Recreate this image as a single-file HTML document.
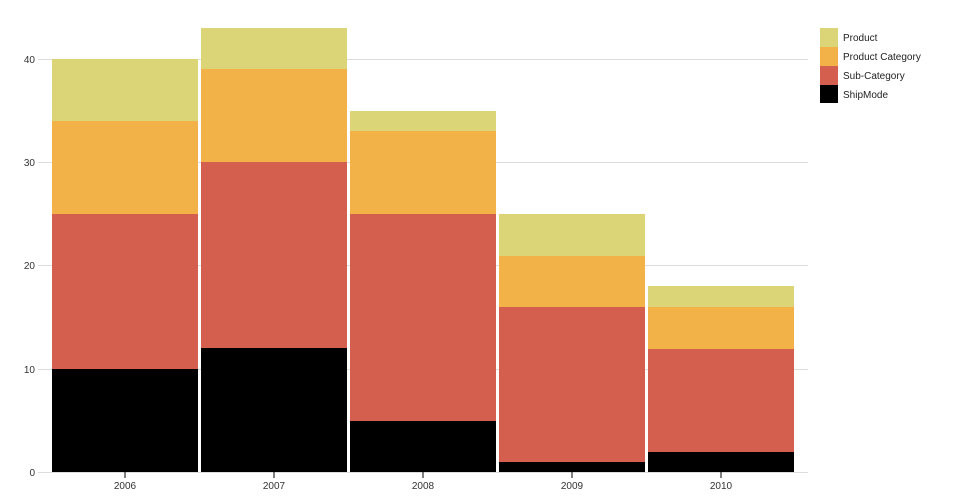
<!DOCTYPE html>
<html><head><style>body{margin:0;background:#fff}svg{display:block;font-family:"Liberation Sans",sans-serif}</style></head><body>
<svg width="960" height="500" xmlns="http://www.w3.org/2000/svg">
<g stroke="#ddd" stroke-width="1">
<line x1="38" x2="808" y1="59.5" y2="59.5"/>
<line x1="38" x2="808" y1="162.5" y2="162.5"/>
<line x1="38" x2="808" y1="265.5" y2="265.5"/>
<line x1="38" x2="808" y1="369.5" y2="369.5"/>
<line x1="38" x2="808" y1="472.5" y2="472.5"/>
</g>
<g font-size="10" fill="#333" text-anchor="end">
<text x="35" y="63">40</text><text x="35" y="166">30</text><text x="35" y="269">20</text><text x="35" y="373">10</text><text x="35" y="476">0</text>
</g>
<g id="bars"></g>
<!-- bars: y(v)=472-v*10.325 -->
<g>
<rect x="52" y="59" width="146" height="62" fill="#dbd577"/>
<rect x="52" y="121" width="146" height="93" fill="#f2b247"/>
<rect x="52" y="214" width="146" height="155" fill="#d45f4e"/>
<rect x="52" y="369" width="146" height="103" fill="#000"/>

<rect x="201" y="28" width="146" height="41" fill="#dbd577"/>
<rect x="201" y="69" width="146" height="93" fill="#f2b247"/>
<rect x="201" y="162" width="146" height="186" fill="#d45f4e"/>
<rect x="201" y="348" width="146" height="124" fill="#000"/>

<rect x="350" y="111" width="146" height="20" fill="#dbd577"/>
<rect x="350" y="131" width="146" height="83" fill="#f2b247"/>
<rect x="350" y="214" width="146" height="207" fill="#d45f4e"/>
<rect x="350" y="421" width="146" height="51" fill="#000"/>

<rect x="499" y="214" width="146" height="42" fill="#dbd577"/>
<rect x="499" y="256" width="146" height="51" fill="#f2b247"/>
<rect x="499" y="307" width="146" height="155" fill="#d45f4e"/>
<rect x="499" y="462" width="146" height="10" fill="#000"/>

<rect x="648" y="286" width="146" height="21" fill="#dbd577"/>
<rect x="648" y="307" width="146" height="42" fill="#f2b247"/>
<rect x="648" y="349" width="146" height="103" fill="#d45f4e"/>
<rect x="648" y="452" width="146" height="20" fill="#000"/>
</g>
<g stroke="#000" stroke-width="1">
<line x1="125" x2="125" y1="472" y2="478"/><line x1="274" x2="274" y1="472" y2="478"/><line x1="423" x2="423" y1="472" y2="478"/><line x1="572" x2="572" y1="472" y2="478"/><line x1="721" x2="721" y1="472" y2="478"/>
</g>
<g font-size="10" fill="#333" text-anchor="middle">
<text x="125" y="489">2006</text><text x="274" y="489">2007</text><text x="423" y="489">2008</text><text x="572" y="489">2009</text><text x="721" y="489">2010</text>
</g>
<rect x="820" y="28" width="18" height="19" fill="#dbd577"/>
<rect x="820" y="47" width="18" height="19" fill="#f2b247"/>
<rect x="820" y="66" width="18" height="19" fill="#d45f4e"/>
<rect x="820" y="85" width="18" height="18" fill="#000"/>
<g font-size="10" fill="#222">
<text x="843" y="41">Product</text><text x="843" y="60">Product Category</text><text x="843" y="79">Sub-Category</text><text x="843" y="98">ShipMode</text>
</g>
</svg>
</body></html>
